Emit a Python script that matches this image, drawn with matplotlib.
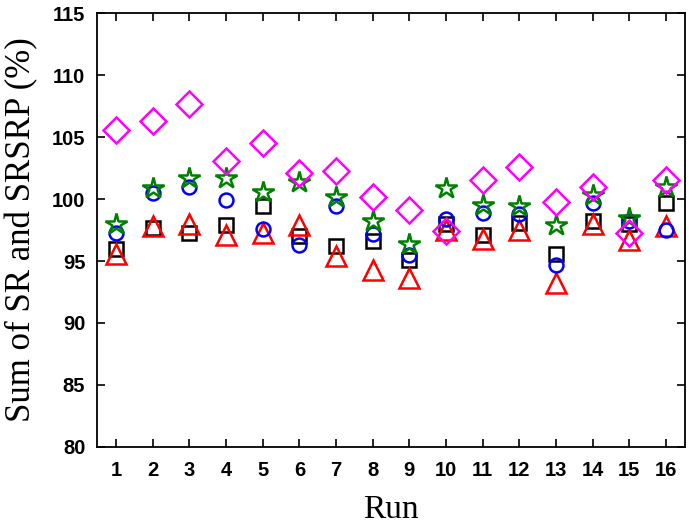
import matplotlib.pyplot as plt
import numpy as np

runs = np.arange(1, 17)

# series (%)
square = [96.0, 97.7, 97.3, 97.9, 99.4, 97.0, 96.2, 96.6, 95.1, 98.0, 97.1, 98.1, 95.6, 98.2, 98.0, 99.7]
triangle = [95.6, 97.8, 98.0, 97.1, 97.3, 97.9, 95.4, 94.3, 93.6, 97.5, 96.8, 97.5, 93.2, 98.0, 96.7, 97.8]
circle = [97.3, 100.5, 101.0, 99.9, 97.6, 96.3, 99.4, 97.2, 95.5, 98.4, 98.9, 98.8, 94.7, 99.7, 98.2, 97.5]
star = [98.0, 100.9, 101.7, 101.7, 100.6, 101.4, 100.2, 98.2, 96.4, 100.9, 99.5, 99.4, 97.9, 100.3, 98.5, 101.0]
diamond = [105.6, 106.3, 107.7, 103.1, 104.5, 102.1, 102.3, 100.2, 99.1, 97.4, 101.5, 102.6, 99.8, 101.0, 97.3, 101.5]

fig = plt.figure(figsize=(6.89, 5.27), dpi=100)
ax = fig.add_axes([0.141, 0.152, 0.853, 0.823])

# hollow markers, same look as the original
ax.plot(runs, square, 's', ms=9.5, mfc='none', mec='black', mew=1.8)
ax.plot(runs, triangle, '^', ms=14, mfc='none', mec='red', mew=1.8)
ax.plot(runs, circle, 'o', ms=10, mfc='none', mec='blue', mew=1.8)
ax.plot(runs, star, '*', ms=16, mfc='none', mec='green', mew=1.8)
ax.plot(runs, diamond, 'D', ms=13, mfc='none', mec='magenta', mew=1.8)

ax.set_xlim(0.48, 16.52)
ax.set_ylim(80, 115)
ax.set_xticks(runs)
ax.set_yticks(np.arange(80, 116, 5))
ax.tick_params(direction='in', top=True, right=True, length=6, width=1.2)
ax.tick_params(axis='x', pad=10)
ax.tick_params(axis='y', pad=8.5)
for lab in ax.get_xticklabels() + ax.get_yticklabels():
    lab.set_fontfamily('Liberation Sans')
    lab.set_fontweight('bold')
    lab.set_fontsize(14.5)
for sp in ax.spines.values():
    sp.set_linewidth(1.3)

ax.set_xlabel('Run', fontfamily='Liberation Serif', fontsize=24)
ax.set_ylabel('Sum of SR and SRSRP (%)', fontfamily='Liberation Serif', fontsize=25)
ax.xaxis.set_label_coords(0.5, -0.11)
ax.yaxis.set_label_coords(-0.1, 0.5)

plt.savefig('out.png', dpi=100)
